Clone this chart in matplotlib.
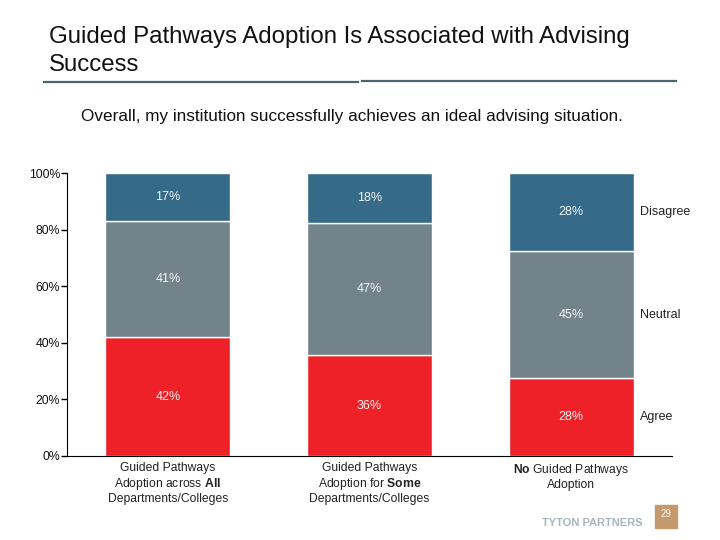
import matplotlib.pyplot as plt
import numpy as np
from matplotlib.lines import Line2D
from matplotlib.patches import Rectangle

plt.rcParams['font.family'] = ['Liberation Sans', 'DejaVu Sans']
plt.rcParams['mathtext.fontset'] = 'custom'
plt.rcParams['mathtext.rm'] = 'Liberation Sans'
plt.rcParams['mathtext.bf'] = 'Liberation Sans:bold'

categories = ["Guided Pathways\nAdoption across $\\mathbf{All}$\nDepartments/Colleges",
              "Guided Pathways\nAdoption for $\\mathbf{Some}$\nDepartments/Colleges",
              "$\\mathbf{No}$ Guided Pathways\nAdoption"]
series = ["Agree", "Neutral", "Disagree"]
agree = [42, 36, 28]
neutral = [41, 47, 45]
disagree = [17, 18, 28]
colors = ["#ed2127", "#728389", "#356a88"]

fig = plt.figure(figsize=(7.2, 5.4), dpi=100)
ax = fig.add_axes([67/720, 84/540, 605/720, 283/540])

vals = np.array([agree, neutral, disagree], dtype=float)
shares = vals / vals.sum(axis=0) * 100
x = np.arange(len(categories))
bottom = np.zeros(len(categories))
for i, name in enumerate(series):
    ax.bar(x, shares[i], 0.62, bottom=bottom, color=colors[i],
           edgecolor='white', linewidth=1)
    for j in range(len(x)):
        ax.text(x[j], bottom[j] + shares[i][j] / 2, f"{int(vals[i][j])}%",
                ha='center', va='center', color='#f4f4f4', fontsize=9)
    ax.text(x[-1] + 0.34, bottom[-1] + shares[i][-1] / 2, name,
            ha='left', va='center', color='#222222', fontsize=9)
    bottom += shares[i]

ax.set_xlim(-0.5, 2.5)
ax.set_ylim(0, 100)
ax.set_yticks([0, 20, 40, 60, 80, 100])
ax.set_yticklabels([f"{t}%" for t in [0, 20, 40, 60, 80, 100]], fontsize=8.8, color='#111111')
ax.set_xticks(x)
ax.set_xticklabels(categories, fontsize=8.7, color='#222222', linespacing=1.18)
ax.tick_params(axis='x', length=0, pad=4)
ax.tick_params(axis='y', length=4, width=1, pad=1)
for s in ['top', 'right']:
    ax.spines[s].set_visible(False)

# title block
fig.text(49/720, 1 - 37/540, "Guided Pathways Adoption Is Associated with Advising",
         fontsize=17.3, va='center', ha='left', color='#111111')
fig.text(49/720, 1 - 65/540, "Success",
         fontsize=17.3, va='center', ha='left', color='#111111')
fig.add_artist(Line2D([44/720, 358/720], [1 - 82/540] * 2, color='#4a6470', lw=1.6))
fig.add_artist(Line2D([362/720, 676/720], [1 - 81/540] * 2, color='#4a6470', lw=1.6))
fig.text(352/720, 1 - 117/540,
         "Overall, my institution successfully achieves an ideal advising situation.",
         fontsize=12.3, ha='center', va='center', color='#111111')

# footer
fig.text(643/720, 1 - 523/540, "TYTON PARTNERS", fontsize=8, fontweight='bold',
         color='#a9b4bd', ha='right', va='center')
fig.add_artist(Rectangle((655/720, 1 - 528/540), 22/720, 23/540,
                         color='#c49a6c', transform=fig.transFigure))
fig.text(666/720, 1 - 514/540, "29", fontsize=7, color='white', ha='center', va='center')

fig.savefig("out.png", dpi=100)
